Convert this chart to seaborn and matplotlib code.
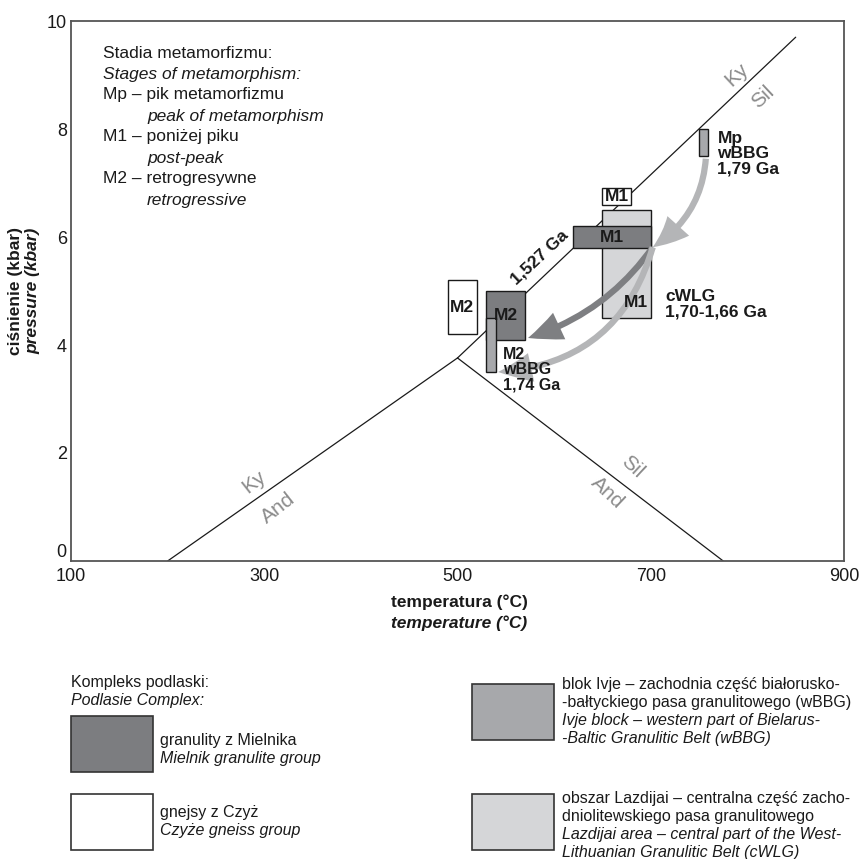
import seaborn as sns
import matplotlib.pyplot as plt
from matplotlib.patches import Rectangle, FancyArrowPatch

# Al2SiO5 reaction lines (temperature degC, pressure kbar)
ky_and_T = [200, 500]
ky_and_P = [0, 3.76]
and_sil_T = [500, 775]
and_sil_P = [3.76, 0]
ky_sil_T = [500, 850]
ky_sil_P = [3.76, 9.7]

# P-T fields of the metamorphic stages
box_group = ['cWLG', 'Mielnik', 'Czyze', 'Czyze', 'Mielnik', 'wBBG', 'wBBG']
box_label = ['', 'M1', 'M1', 'M2', 'M2', '', '']
box_tmin = [650, 620, 650, 490, 530, 530, 750]
box_tmax = [700, 700, 680, 520, 570, 540, 759]
box_pmin = [4.5, 5.8, 6.6, 4.2, 4.1, 3.5, 7.5]
box_pmax = [6.5, 6.2, 6.9, 5.2, 5.0, 4.5, 8.0]

# P-T paths (arrows)
path_t0 = [757, 702, 702]
path_p0 = [7.45, 5.81, 5.81]
path_t1 = [702, 573, 542]
path_p1 = [5.81, 4.13, 3.5]
path_kind = ['light', 'dark', 'light']

x_ticks = [100, 300, 500, 700, 900]
x_minor = [200, 400, 600, 800]
y_ticks = [0, 2, 4, 6, 8, 10]

fills = {'Mielnik': '#7c7d80', 'Czyze': 'white', 'wBBG': '#a7a8ab', 'cWLG': '#d5d6d8'}
arrow_col = {'light': '#b4b5b7', 'dark': '#7e7f82'}

sns.set_theme(style='white')
NARROW = ['Liberation Sans Narrow', 'Liberation Sans', 'DejaVu Sans']
ARIAL = ['Liberation Sans', 'DejaVu Sans']
plt.rcParams['font.family'] = NARROW

W, H = 868, 859
fig = plt.figure(figsize=(W / 100, H / 100), dpi=100)
ax = fig.add_axes([71 / W, 1 - 561 / H, (844 - 71) / W, (561 - 21) / H])


def px(x, y):
    return x / W, 1 - y / H


# reaction lines
for T, P in [(ky_and_T, ky_and_P), (and_sil_T, and_sil_P), (ky_sil_T, ky_sil_P)]:
    sns.lineplot(x=T, y=P, sort=False, color='#1a1a1a', lw=0.9, ax=ax, zorder=1)

# boxes
for g, lab, t0, t1, p0, p1 in zip(box_group, box_label, box_tmin, box_tmax, box_pmin, box_pmax):
    ax.add_patch(Rectangle((t0, p0), t1 - t0, p1 - p0, facecolor=fills[g],
                           edgecolor='#1a1a1a', lw=1.0, zorder=2))
    if lab:
        ax.text((t0 + t1) / 2, (p0 + p1) / 2, lab, ha='center', va='center',
                family=ARIAL, weight='bold', fontsize=12.5, color='#1a1a1a', zorder=6)
# M1 label in the cWLG field
ax.text(box_tmax[0] - 3, box_pmin[0] + 0.28, 'M1', ha='right', va='center',
        family=ARIAL, weight='bold', fontsize=12.5, color='#1a1a1a', zorder=6)

# paths
rads = [-0.25, -0.17, -0.35]
for t0, p0, t1, p1, k, r in zip(path_t0, path_p0, path_t1, path_p1, path_kind, rads):
    ax.add_patch(FancyArrowPatch((t0, p0), (t1, p1), connectionstyle=f'arc3,rad={r}',
                                 arrowstyle='simple,head_length=2.4,head_width=2.1,tail_width=0.45',
                                 mutation_scale=10, color=arrow_col[k], lw=0,
                                 shrinkA=0, shrinkB=0, zorder=4))

# annotations
bold = dict(family=ARIAL, weight='bold', fontsize=12.5, color='#1a1a1a',
            linespacing=1.05, zorder=6)
ax.text(769, 7.54, 'Mp\nwBBG\n1,79 Ga', ha='left', va='center', **bold)
ax.text(715, 4.76, 'cWLG\n1,70-1,66 Ga', ha='left', va='center', **bold)
ax.text(547, 3.54, 'M2\nwBBG\n1,74 Ga', ha='left', va='center',
        **{**bold, 'fontsize': 11.5})
ax.text(585, 5.63, '1,527 Ga', ha='center', va='center', rotation=43, **bold)

grey = dict(family=ARIAL, fontsize=15, color='#8c8c8c', ha='center', va='center')
ax.text(789, 9.0, 'Ky', rotation=43, **grey)
ax.text(816, 8.6, 'Sil', rotation=43, **grey)
ax.text(289, 1.46, 'Ky', rotation=38, **grey)
ax.text(314, 0.98, 'And', rotation=38, **grey)
ax.text(681, 1.74, 'Sil', rotation=-43, **grey)
ax.text(655, 1.26, 'And', rotation=-43, **grey)

# axes styling
ax.set_xlim(100, 900)
ax.set_ylim(0, 10)
ax.set_xticks(x_ticks)
ax.set_xticks(x_minor, minor=True)
ax.set_yticks(y_ticks)
ax.tick_params(which='both', direction='in', length=8, width=1, color='#333333',
               labelsize=13, labelcolor='#1a1a1a')
ax.tick_params(axis='x', pad=5)
ax.tick_params(axis='y', pad=3)
ax.get_yticklabels()[0].set_verticalalignment('bottom')
for s in ax.spines.values():
    s.set_color('#555555')
    s.set_linewidth(1.3)
ax.set_xlabel('')
ax.set_ylabel('')

# stage explanation block
stages = [('Stadia metamorfizmu:', 103, 'normal'), ('Stages of metamorphism:', 103, 'italic'),
          ('Mp – pik metamorfizmu', 103, 'normal'), ('peak of metamorphism', 147, 'italic'),
          ('M1 – poniżej piku', 103, 'normal'), ('post-peak', 147, 'italic'),
          ('M2 – retrogresywne', 103, 'normal'), ('retrogressive', 147, 'italic')]
for i, (s, x, st) in enumerate(stages):
    fig.text(*px(x, 53 + 21 * i), s, style=st, fontsize=12.5, va='center', ha='left',
             color='#1a1a1a')

# axis titles
fig.text(*px(16, 291), 'ciśnienie (kbar)', rotation=90, weight='bold', fontsize=12.5,
         ha='center', va='center', color='#1a1a1a')
fig.text(*px(33, 291), 'pressure (kbar)', rotation=90, weight='bold', style='italic',
         fontsize=12.5, ha='center', va='center', color='#1a1a1a')
fig.text(*px(459, 602), 'temperatura (°C)', weight='bold', fontsize=12.5,
         ha='center', va='center', color='#1a1a1a')
fig.text(*px(459, 623), 'temperature (°C)', weight='bold', style='italic', fontsize=12.5,
         ha='center', va='center', color='#1a1a1a')

# legend
leg = fig.add_axes([0, 0, 1, 1], zorder=-1)
leg.set_xlim(0, W)
leg.set_ylim(H, 0)
leg.axis('off')
for g, x0, y0 in [('Mielnik', 71, 716), ('Czyze', 71, 794), ('wBBG', 472, 684), ('cWLG', 472, 794)]:
    leg.add_patch(Rectangle((x0, y0), 82, 56, facecolor=fills[g], edgecolor='#333333', lw=1.2))

leg_text = [
    ('Kompleks podlaski:', 71, 683, 'normal'), ('Podlasie Complex:', 71, 701, 'italic'),
    ('granulity z Mielnika', 160, 740, 'normal'), ('Mielnik granulite group', 160, 758, 'italic'),
    ('gnejsy z Czyż', 160, 813, 'normal'), ('Czyże gneiss group', 160, 831, 'italic'),
    ('blok Ivje – zachodnia część białorusko-', 562, 684, 'normal'),
    ('-bałtyckiego pasa granulitowego (wBBG)', 562, 702, 'normal'),
    ('Ivje block – western part of Bielarus-', 562, 720, 'italic'),
    ('-Baltic Granulitic Belt (wBBG)', 562, 738, 'italic'),
    ('obszar Lazdijai – centralna część zacho-', 562, 798, 'normal'),
    ('dniolitewskiego pasa granulitowego', 562, 816, 'normal'),
    ('Lazdijai area – central part of the West-', 562, 834, 'italic'),
    ('Lithuanian Granulitic Belt (cWLG)', 562, 852, 'italic'),
]
for s, x, y, st in leg_text:
    leg.text(x, y, s, style=st, fontsize=11.5, va='center', ha='left', color='#1a1a1a')

fig.savefig('out.png', dpi=100)
